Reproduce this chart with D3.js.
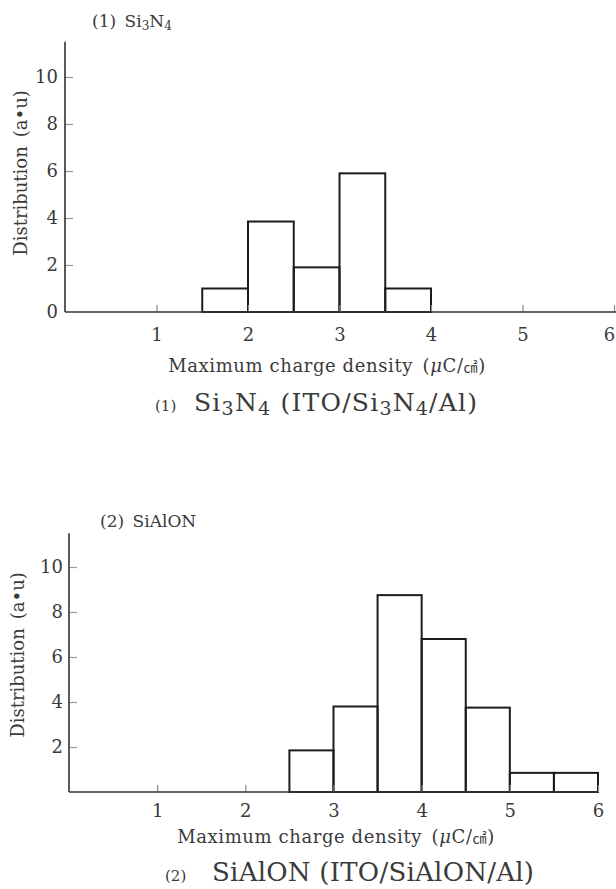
<!DOCTYPE html>
<html>
<head>
<meta charset="utf-8">
<script src="https://cdn.jsdelivr.net/npm/d3@7/dist/d3.min.js"></script>
<style>
  html, body { margin: 0; padding: 0; background: #fff; }
  svg { display: block; }
  text { font-family: "DejaVu Serif", "Liberation Serif", serif; fill: #3a3a3a; }
</style>
</head>
<body>
<svg id="chart" width="616" height="889"></svg>
<script>
// Histogram of maximum charge density, two insulator films
const xTicks = [1, 2, 3, 4, 5, 6];
const yTicksTop = [0, 2, 4, 6, 8, 10];
const yTicksBottom = [2, 4, 6, 8, 10];

const binsSiN = [1.5, 2.0, 2.5, 3.0, 3.5, 4.0];           // bin edges
const countsSiN = [1.0, 3.85, 1.9, 5.9, 1.0];

const binsSiAlON = [2.5, 3.0, 3.5, 4.0, 4.5, 5.0, 5.5, 6.0];
const countsSiAlON = [1.85, 3.8, 8.75, 6.8, 3.75, 0.85, 0.85];

const svg = d3.select("#chart");
const W = 616;

function panel(cfg) {
  const g = svg.append("g");
  const x = d3.scaleLinear().domain([0, 6]).range([cfg.x0, cfg.x6]);
  const y = d3.scaleLinear().domain([0, 11.5]).range([cfg.yBase, cfg.yTop]);

  // bars
  const bars = cfg.counts.map((c, i) => ({ x0: cfg.bins[i], x1: cfg.bins[i + 1], v: c }));
  g.selectAll("rect.bar").data(bars).join("rect")
    .attr("class", "bar")
    .attr("x", d => x(d.x0))
    .attr("width", d => x(d.x1) - x(d.x0))
    .attr("y", d => y(d.v))
    .attr("height", d => y(0) - y(d.v))
    .attr("fill", "none")
    .attr("stroke", "#1c1c1c")
    .attr("stroke-width", 2);

  // x axis: small upward ticks, labels below
  const xa = g.append("g").attr("transform", `translate(0,${y(0)})`)
    .call(d3.axisBottom(x).tickValues(xTicks).tickSizeInner(-7).tickSizeOuter(0).tickFormat(d3.format("d")));
  xa.select(".domain").remove();
  xa.selectAll(".tick line").attr("stroke", "#888").attr("stroke-width", 1.2);
  xa.selectAll(".tick text")
    .attr("y", cfg.xLabelDy).attr("dy", null)
    .style("font-size", "18px").style("font-family", "DejaVu Serif").attr("fill", "#3a3a3a")
    // keep the last label inside the page
    .attr("x", d => Math.min(0, W - 7 - x(d)));

  g.append("line")
    .attr("x1", x(0)).attr("x2", cfg.axisEnd)
    .attr("y1", y(0)).attr("y2", y(0))
    .attr("stroke", "#333").attr("stroke-width", 1.6);

  // y axis: ticks pointing inward
  const ya = g.append("g").attr("transform", `translate(${x(0)},0)`)
    .call(d3.axisRight(y).tickValues(cfg.yTicks.filter(v => v > 0)).tickSizeInner(8).tickSizeOuter(0).tickFormat(""));
  ya.select(".domain").remove();
  ya.selectAll(".tick line").attr("stroke", "#999").attr("stroke-width", 1.2);

  g.selectAll("text.ytick").data(cfg.yTicks).join("text")
    .attr("class", "ytick")
    .attr("x", cfg.yLabelX)
    .attr("y", d => y(d))
    .attr("dy", "0.36em")
    .attr("text-anchor", "end")
    .style("font-size", "18px")
    .text(d => d);

  g.append("line")
    .attr("x1", x(0)).attr("x2", x(0))
    .attr("y1", cfg.yTop).attr("y2", y(0))
    .attr("stroke", "#333").attr("stroke-width", 1.6);

  // axis titles
  g.append("text")
    .attr("transform", `translate(${cfg.yTitleX},${cfg.yTitleY}) rotate(-90)`)
    .attr("text-anchor", "middle")
    .attr("dy", "0.36em")
    .style("font-size", "18px")
    .text("Distribution\u2002(a\u2022u)");

  const xt = g.append("text")
    .attr("x", cfg.xTitleX).attr("y", cfg.xTitleY)
    .attr("text-anchor", "middle")
    .style("font-size", "18px")
    .style("letter-spacing", "0.6px");
  xt.append("tspan").text("Maximum charge density\u2002(");
  xt.append("tspan").style("font-style", "italic").text("\u03bc");
  xt.append("tspan").text("C/");
  xt.append("tspan").style("font-family", "Noto Sans CJK JP").style("font-size", "14px").text("\u33a0");
  xt.append("tspan").text(")");

  // panel heading
  const ht = g.append("text").attr("x", cfg.headX).attr("y", cfg.headY).style("font-size", "17px");
  cfg.head.forEach(p => {
    const t = ht.append("tspan").text(p.t);
    if (p.sub) t.style("font-size", "12px").attr("dy", "3");
    if (p.back) t.attr("dy", "-3");
  });

  // caption under panel
  g.append("text").attr("x", cfg.capX).attr("y", cfg.capY)
    .style("font-size", "15px").text("(" + cfg.num + ")");
  const ct = g.append("text").attr("x", cfg.capTextX).attr("y", cfg.capY)
    .style("font-size", cfg.capSize + "px")
    .attr("textLength", cfg.capLen).attr("lengthAdjust", "spacing");
  cfg.cap.forEach(p => {
    const t = ct.append("tspan").text(p.t);
    if (p.sub) t.style("font-size", Math.round(cfg.capSize * 0.75) + "px").attr("dy", "4");
    if (p.back) t.attr("dy", "-4");
  });
}

panel({
  num: 1,
  bins: binsSiN, counts: countsSiN, yTicks: yTicksTop,
  x0: 65, x6: 614, yBase: 312, yTop: 41.75, axisEnd: 616,
  xLabelDy: 29, yLabelX: 58, yTitleX: 21, yTitleY: 173,
  xTitleX: 327, xTitleY: 372,
  headX: 92, headY: 27,
  head: [{ t: "(1)\u2002Si" }, { t: "3", sub: true }, { t: "N", back: true }, { t: "4", sub: true }],
  capX: 155, capTextX: 194, capY: 411, capSize: 25, capLen: 283,
  cap: [{ t: "Si" }, { t: "3", sub: true }, { t: "N", back: true }, { t: "4", sub: true },
        { t: " (ITO/Si", back: true }, { t: "3", sub: true }, { t: "N", back: true }, { t: "4", sub: true },
        { t: "/Al)", back: true }]
});

panel({
  num: 2,
  bins: binsSiAlON, counts: countsSiAlON, yTicks: yTicksBottom,
  x0: 69, x6: 598, yBase: 792, yTop: 533.25, axisEnd: 598,
  xLabelDy: 25, yLabelX: 63, yTitleX: 18, yTitleY: 655,
  xTitleX: 336, xTitleY: 843,
  headX: 100, headY: 527,
  head: [{ t: "(2)\u2002SiAlON" }],
  capX: 165, capTextX: 212, capY: 881, capSize: 26, capLen: 322,
  cap: [{ t: "SiAlON (ITO/SiAlON/Al)" }]
});
</script>
</body>
</html>
